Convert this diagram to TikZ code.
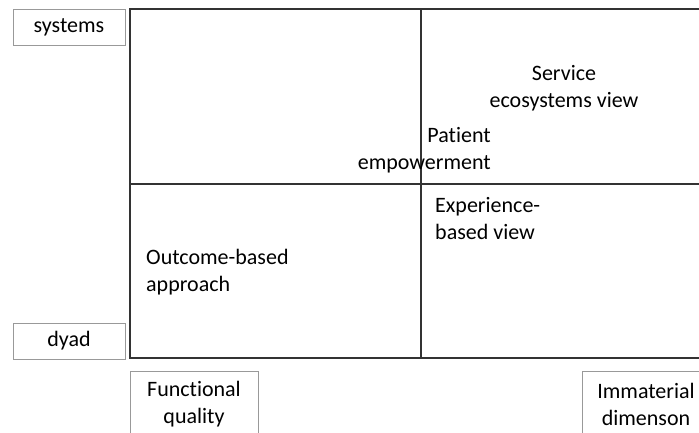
\documentclass[tikz,border=0pt]{standalone}
\usepackage{fontspec}
\setmainfont[Ligatures=NoCommon]{Carlito}
\usetikzlibrary{positioning}

\begin{document}
\begin{tikzpicture}[
		x=1pt, y=-1pt,
		labelbox/.style={draw=gray!80, line width=0.8pt, inner sep=0pt, align=center},
		quadtext/.style={inner sep=0pt, font=\fontsize{22}{27}\selectfont},
		gridline/.style={draw=black!80, line width=1.3pt},
		]
		\useasboundingbox (0,0) rectangle (699,432);
		\clip (0,0) rectangle (699,432);
		
		%Grid
		\coordinate (tl) at (130,9);
		\coordinate (br) at (720,358);
		\draw[gridline] (tl) rectangle (br);
		\draw[gridline] (421,9) -- (421,358);
		\draw[gridline] (130,184) -- (720,184);
		
		%Axis boxes
		\node[labelbox, quadtext, minimum width=112pt, minimum height=36pt] (sys)  at (69,27)  {systems};
		\node[labelbox, quadtext, minimum width=112pt, minimum height=36pt] (dyad) at (69,341) {dyad};
		\node[labelbox, quadtext, minimum width=128pt, minimum height=66pt] (func) at (194,404) {Functional\\quality};
		\node[labelbox, quadtext, minimum width=128pt, minimum height=66pt] (imm)  at (646,404) {Immaterial\\dimenson};
		
		%Quadrant labels
		\node[quadtext, align=center]           (eco) at (564,88.5)  {Service\\ecosystems view};
		\node[quadtext, align=right, anchor=east] (pat) at (491,150)  {Patient\\empowerment};
		\node[quadtext, align=left, anchor=west]  (exp) at (435,218.5) {Experience-\\based view};
		\node[quadtext, align=left, anchor=west]  (out) at (146,272.5) {Outcome-based\\approach};
		\end{tikzpicture}
\end{document}
